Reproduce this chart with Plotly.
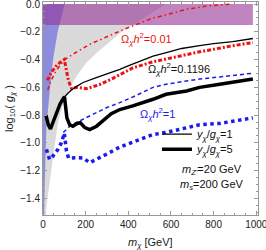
import plotly.graph_objects as go

# ---- shaded regions (m_chi [GeV], log10 g_chi) ----
gray_edge_m = [14, 16, 28, 50, 71, 90, 110, 157, 205, 260, 300, 368, 420, 500, 576]
gray_edge_g = [-1.52, -1.46, -1.31, -1.07, -0.85, -0.74, -0.65, -0.52, -0.42, -0.34, -0.29, -0.20, -0.15, -0.07, 0.0]

blue_edge_m = [5, 8, 12, 16, 31, 47, 69, 78, 102]
blue_edge_g = [-1.52, -1.30, -1.00, -0.88, -0.64, -0.40, -0.20, -0.15, 0.0]

band_m = [0, 984]
band_lo = -0.15
band_hi = 0.0

# ---- relic-density contours ----
red1_m = [22, 35, 55, 78, 102, 142, 219, 297, 375, 421, 516, 546, 673, 766, 867, 880]
red1_g = [-0.62, -0.56, -0.50, -0.445, -0.40, -0.36, -0.29, -0.235, -0.185, -0.157, -0.10, -0.09, -0.038, -0.014, -0.003, 0.0]

red5_m = [20, 40, 60, 80, 100, 110, 119, 134, 160, 203, 266, 328, 380, 421, 516, 577, 673, 734, 890, 984]
red5_g = [-0.55, -0.49, -0.45, -0.42, -0.40, -0.47, -0.55, -0.61, -0.60, -0.61, -0.58, -0.535, -0.49, -0.46, -0.416, -0.395, -0.36, -0.344, -0.30, -0.277]

blk1_m = [100, 125, 150, 188, 250, 297, 360, 399, 454, 516, 578, 650, 734, 800, 890, 984]
blk1_g = [-0.67, -0.63, -0.60, -0.565, -0.53, -0.505, -0.47, -0.445, -0.41, -0.375, -0.349, -0.32, -0.30, -0.285, -0.27, -0.248]

blk5_m = [14, 25, 35, 50, 63, 80, 95, 101, 106, 112, 125, 140, 160, 175, 196, 219, 251, 282, 320, 360, 421, 516, 577, 673, 734, 829, 984]
blk5_g = [-0.80, -0.87, -0.90, -0.84, -0.78, -0.72, -0.68, -0.67, -0.74, -0.82, -0.87, -0.88, -0.86, -0.855, -0.89, -0.905, -0.88, -0.84, -0.79, -0.76, -0.734, -0.686, -0.65, -0.626, -0.60, -0.578, -0.54]

blu1_m = [95, 133, 188, 250, 300, 360, 421, 516, 577, 673, 734, 829, 984]
blu1_g = [-0.925, -0.87, -0.83, -0.78, -0.745, -0.71, -0.67, -0.60, -0.578, -0.554, -0.54, -0.525, -0.498]

blu5_m = [16, 31, 47, 70, 86, 100, 110, 120, 156, 188, 219, 251, 300, 360, 415, 516, 577, 673, 734, 829, 984]
blu5_g = [-1.047, -1.12, -1.095, -1.047, -1.0, -0.93, -1.06, -1.11, -1.107, -1.11, -1.143, -1.12, -1.08, -1.03, -1.0, -0.94, -0.925, -0.89, -0.87, -0.86, -0.82]

x_ticks = [0, 200, 400, 600, 800, 1000]
y_ticks = [0.0, -0.2, -0.4, -0.6, -0.8, -1.0, -1.2, -1.4]

FONT = "Liberation Sans, Arial, sans-serif"

fig = go.Figure()

fig.add_trace(go.Scatter(
    x=[0] + gray_edge_m + [0], y=[gray_edge_g[0]] + gray_edge_g + [band_hi],
    fill="toself", fillcolor="rgb(218,218,218)", line=dict(width=0),
    mode="lines", showlegend=False, hoverinfo="skip"))
fig.add_trace(go.Scatter(
    x=[0] + blue_edge_m + [0], y=[blue_edge_g[0]] + blue_edge_g + [band_hi],
    fill="toself", fillcolor="rgba(70,70,230,0.52)", line=dict(width=0),
    mode="lines", showlegend=False, hoverinfo="skip"))
fig.add_trace(go.Scatter(
    x=[band_m[0], band_m[1], band_m[1], band_m[0], band_m[0]],
    y=[band_lo, band_lo, band_hi, band_hi, band_lo],
    fill="toself", fillcolor="rgba(150,50,150,0.6)", line=dict(width=0),
    mode="lines", showlegend=False, hoverinfo="skip"))

fig.add_trace(go.Scatter(x=blu5_m, y=blu5_g, mode="lines",
    line=dict(color="#1a1aee", width=3.5, dash="dot"), showlegend=False, hoverinfo="skip"))
fig.add_trace(go.Scatter(x=blu1_m, y=blu1_g, mode="lines",
    line=dict(color="#1a1aee", width=1.5, dash="4px,3px"), showlegend=False, hoverinfo="skip"))
fig.add_trace(go.Scatter(x=blk5_m, y=blk5_g, mode="lines",
    line=dict(color="black", width=3.5), name="<i>y<sub>χ</sub></i>/<i>g<sub>χ</sub></i>=5",
    legend="legend2", hoverinfo="skip"))
fig.add_trace(go.Scatter(x=red5_m, y=red5_g, mode="lines",
    line=dict(color="#ee1111", width=3, dash="4px,2px,2px,2px"), showlegend=False, hoverinfo="skip"))
fig.add_trace(go.Scatter(x=blk1_m, y=blk1_g, mode="lines",
    line=dict(color="black", width=1.3), name="<i>y<sub>χ</sub></i>/<i>g<sub>χ</sub></i>=1",
    legend="legend", hoverinfo="skip"))
fig.add_trace(go.Scatter(x=red1_m, y=red1_g, mode="lines",
    line=dict(color="#ee1111", width=1.5, dash="4px,3px,1.5px,3px"), showlegend=False, hoverinfo="skip"))

ann = [
    (487, -0.253, "Ω<sub><i>χ</i></sub><i>h</i><sup>2</sup>=0.01", "#ee1111"),
    (637, -0.466, "Ω<sub><i>χ</i></sub><i>h</i><sup>2</sup>=0.1196", "#111111"),
    (536, -0.794, "Ω<sub><i>χ</i></sub><i>h</i><sup>2</sup>=1", "#1a1aee"),
    (791, -1.199, "<i>m<sub>Z'</sub></i>=20 GeV", "#111111"),
    (791, -1.307, "<i>m<sub>s</sub></i>=200 GeV", "#111111"),
]
for x, y, t, c in ann:
    fig.add_annotation(x=x, y=y, text=t, showarrow=False, xref="x", yref="y",
                       font=dict(size=11, color=c, family=FONT))

fig.add_annotation(x=0.5, y=-0.13, xref="paper", yref="paper", xanchor="center", yanchor="middle",
                   text="<i>m<sub>χ</sub></i> [GeV]", showarrow=False,
                   font=dict(size=11, color="#222222", family=FONT))

axcol = "#999999"
fig.update_layout(
    width=266, height=250,
    margin=dict(l=43, r=8, t=2, b=35, autoexpand=False),
    plot_bgcolor="white", paper_bgcolor="white",
    font=dict(family=FONT, size=10, color="#222222"),
    legend=dict(x=0.53, y=0.38, xanchor="left", yanchor="middle",
                bgcolor="rgba(0,0,0,0)", font=dict(size=11, color="#111111"),
                itemwidth=30, tracegroupgap=0),
    legend2=dict(x=0.53, y=0.309, xanchor="left", yanchor="middle",
                 bgcolor="rgba(0,0,0,0)", font=dict(size=11, color="#111111"),
                 itemwidth=30, tracegroupgap=0),
    xaxis=dict(range=[0, 1008], tickvals=x_ticks, ticks="inside", ticklen=4,
               tickcolor=axcol, linecolor=axcol, showline=True, mirror="allticks",
               showgrid=False, zeroline=False, ticklabeloverflow="allow",
               minor=dict(dtick=50, ticks="inside", ticklen=2, tickcolor=axcol),
               tickfont=dict(size=10, color="#222222")),
    yaxis=dict(range=[-1.52, 0.015], tickvals=y_ticks, tickformat=".1f", ticks="inside", ticklen=4,
               tickcolor=axcol, linecolor=axcol, showline=True, mirror="allticks",
               showgrid=False, zeroline=False, ticklabeloverflow="allow",
               minor=dict(dtick=0.05, tick0=0, ticks="inside", ticklen=2, tickcolor=axcol),
               tickfont=dict(size=10, color="#222222"),
               title=dict(text="log<sub>10</sub>( <i>g<sub>χ</sub></i> )", font=dict(size=11, color="#222222"), standoff=4)),
)

fig.write_html("out.html", config={"displayModeBar": False},
               post_script="document.body.style.margin='0';document.body.style.overflow='hidden';")
